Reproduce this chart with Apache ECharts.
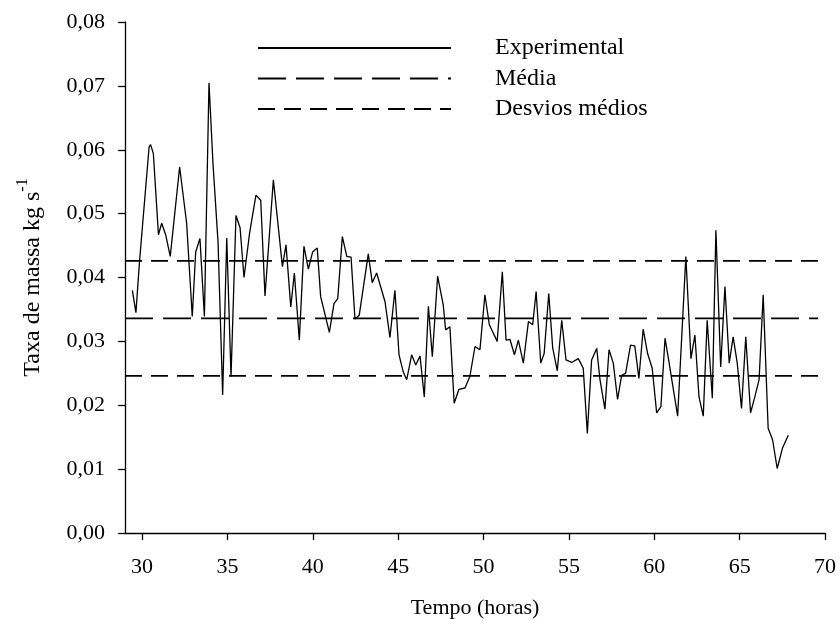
<!DOCTYPE html>
<html>
<head>
<meta charset="utf-8">
<script src="https://cdn.jsdelivr.net/npm/echarts@6/dist/echarts.min.js"></script>
<style>
  html, body { margin: 0; padding: 0; background: #fff; }
  #chart { width: 840px; height: 620px; }
</style>
</head>
<body>
<div id="chart"></div>
<script>
// Time (hours) of each experimental reading
const hours = [
  29.43, 29.64, 29.85, 30.41, 30.5, 30.66, 30.96, 31.15, 31.38, 31.65,
  32.2, 32.61, 32.94, 33.14, 33.39, 33.65, 33.92, 34.15, 34.45, 34.72,
  34.96, 35.21, 35.5, 35.74, 35.97, 36.3, 36.67, 36.95, 37.2, 37.69,
  38.22, 38.43, 38.71, 38.92, 39.21, 39.48, 39.74, 39.99, 40.26, 40.46,
  40.97, 41.24, 41.46, 41.73, 41.99, 42.24, 42.47, 42.72, 43.25, 43.48,
  43.74, 44.23, 44.52, 44.81, 45.05, 45.3, 45.5, 45.79, 46.03, 46.28,
  46.53, 46.77, 47.0, 47.31, 47.64, 47.78, 48.03, 48.28, 48.56, 48.91,
  49.2, 49.5, 49.79, 50.08, 50.34, 50.8, 51.1, 51.32, 51.55, 51.81,
  52.04, 52.33, 52.63, 52.88, 53.08, 53.35, 53.55, 53.82, 54.05, 54.32,
  54.58, 54.83, 55.16, 55.55, 55.84, 56.08, 56.33, 56.63, 56.82, 57.11,
  57.35, 57.6, 57.85, 58.09, 58.32, 58.61, 58.86, 59.1, 59.35, 59.61,
  59.88, 60.14, 60.39, 60.63, 60.86, 61.37, 61.85, 62.15, 62.38, 62.62,
  62.87, 63.1, 63.4, 63.61, 63.89, 64.14, 64.39, 64.62, 64.86, 65.11,
  65.36, 65.64, 65.89, 66.14, 66.38, 66.67, 66.93, 67.2, 67.51, 67.85
];
// Mass rate (kg s-1) at each reading
const massRate = [
  0.0380, 0.0345, 0.0425, 0.0604, 0.0608, 0.0594, 0.0467, 0.0485, 0.0467, 0.0433,
  0.0573, 0.0485, 0.0339, 0.0440, 0.0461, 0.0339, 0.0705, 0.0580, 0.0455, 0.0216,
  0.0462, 0.0245, 0.0497, 0.0478, 0.0400, 0.0470, 0.0529, 0.0521, 0.0371, 0.0553,
  0.0417, 0.0451, 0.0354, 0.0407, 0.0302, 0.0449, 0.0413, 0.0440, 0.0446, 0.0370,
  0.0314, 0.0359, 0.0367, 0.0464, 0.0433, 0.0432, 0.0335, 0.0341, 0.0437, 0.0392,
  0.0407, 0.0362, 0.0306, 0.0380, 0.0279, 0.0252, 0.0240, 0.0279, 0.0263, 0.0277,
  0.0213, 0.0355, 0.0276, 0.0402, 0.0357, 0.0318, 0.0323, 0.0203, 0.0225, 0.0227,
  0.0245, 0.0292, 0.0287, 0.0373, 0.0326, 0.0300, 0.0409, 0.0302, 0.0303, 0.0279,
  0.0302, 0.0266, 0.0331, 0.0326, 0.0378, 0.0266, 0.0281, 0.0375, 0.0290, 0.0254,
  0.0333, 0.0271, 0.0267, 0.0273, 0.0258, 0.0156, 0.0271, 0.0289, 0.0240, 0.0194,
  0.0287, 0.0266, 0.0209, 0.0247, 0.0250, 0.0294, 0.0293, 0.0242, 0.0319, 0.0281,
  0.0258, 0.0188, 0.0198, 0.0305, 0.0268, 0.0183, 0.0433, 0.0273, 0.0310, 0.0213,
  0.0183, 0.0333, 0.0211, 0.0474, 0.0260, 0.0386, 0.0266, 0.0307, 0.0266, 0.0195,
  0.0307, 0.0188, 0.0213, 0.0240, 0.0373, 0.0164, 0.0146, 0.0101, 0.0133, 0.0153
];
// Reference levels
const mediaValue = 0.0336;
const desvioUpper = 0.0426;
const desvioLower = 0.0246;
const refLineSpan = [29, 69.6];
// Axis ticks
const xTicks = [30, 35, 40, 45, 50, 55, 60, 65, 70];
const yTicks = [0, 0.01, 0.02, 0.03, 0.04, 0.05, 0.06, 0.07, 0.08];
// Legend labels
const legendNames = ['Experimental', 'Média', 'Desvios médios'];

const FONT = 'Liberation Serif';
const expData = hours.map((h, i) => [h, massRate[i]]);
const hLine = v => refLineSpan.map(x => [x, v]);

const chart = echarts.init(document.getElementById('chart'), null, { renderer: 'canvas' });
chart.setOption({
  animation: false,
  backgroundColor: '#fff',
  grid: { left: 125, right: 15, top: 22, bottom: 87, containLabel: false, outerBoundsMode: 'none' },
  legend: {
    data: legendNames.map(n => ({ name: n, itemStyle: { opacity: 0 } })),
    orient: 'vertical',
    left: 252,
    top: 31,
    itemWidth: 193,
    itemHeight: 14,
    itemGap: 6.5,
    selectedMode: false,
    itemStyle: { opacity: 0 },
    textStyle: { fontFamily: FONT, fontSize: 24, color: '#000', lineHeight: 24, padding: [0, 0, 0, 39] }
  },
  xAxis: {
    type: 'value',
    min: 29,
    max: 70,
    name: 'Tempo (horas)',
    nameLocation: 'middle',
    nameGap: 64,
    nameTextStyle: { fontFamily: FONT, fontSize: 22, color: '#000' },
    axisLine: { show: true, lineStyle: { color: '#000', width: 1.3 } },
    axisTick: { show: true, length: 7, inside: false, customValues: xTicks, lineStyle: { color: '#000', width: 1.3 } },
    axisLabel: { customValues: xTicks, fontFamily: FONT, fontSize: 22, color: '#000', margin: 23 },
    splitLine: { show: false }
  },
  yAxis: {
    type: 'value',
    min: yTicks[0],
    max: yTicks[yTicks.length - 1],
    interval: 0.01,
    name: '{a|Taxa de massa kg s}{b|-1}',
    nameLocation: 'middle',
    nameRotate: 90,
    nameGap: 80,
    nameTextStyle: {
      fontFamily: FONT, fontSize: 24, color: '#000',
      rich: {
        a: { fontFamily: FONT, fontSize: 24, color: '#000', lineHeight: 30, verticalAlign: 'bottom' },
        b: { fontFamily: FONT, fontSize: 16, color: '#000', lineHeight: 30, verticalAlign: 'top' }
      }
    },
    axisLine: { show: true, lineStyle: { color: '#000', width: 1.3 } },
    axisTick: { show: true, length: 7, inside: false, lineStyle: { color: '#000', width: 1.3 } },
    axisLabel: {
      fontFamily: FONT, fontSize: 22, color: '#000', margin: 20,
      formatter: v => v.toFixed(2).replace('.', ',')
    },
    splitLine: { show: false }
  },
  series: [
    {
      name: 'Experimental', type: 'line', data: expData,
      symbol: 'none', showSymbol: false,
      lineStyle: { color: '#000', width: 1.3, type: 'solid' },
      itemStyle: { color: '#000' }
    },
    {
      name: 'Média', type: 'line', data: hLine(mediaValue),
      symbol: 'none', showSymbol: false,
      lineStyle: { color: '#000', width: 1.6, type: [28, 10] },
      itemStyle: { color: '#000' }
    },
    {
      name: 'Desvios médios', type: 'line', data: hLine(desvioUpper),
      symbol: 'none', showSymbol: false,
      lineStyle: { color: '#000', width: 1.6, type: [17, 9] },
      itemStyle: { color: '#000' }
    },
    {
      name: 'Desvios médios', type: 'line', data: hLine(desvioLower),
      symbol: 'none', showSymbol: false,
      lineStyle: { color: '#000', width: 1.6, type: [17, 9] },
      itemStyle: { color: '#000' }
    }
  ]
});
</script>
</body>
</html>
